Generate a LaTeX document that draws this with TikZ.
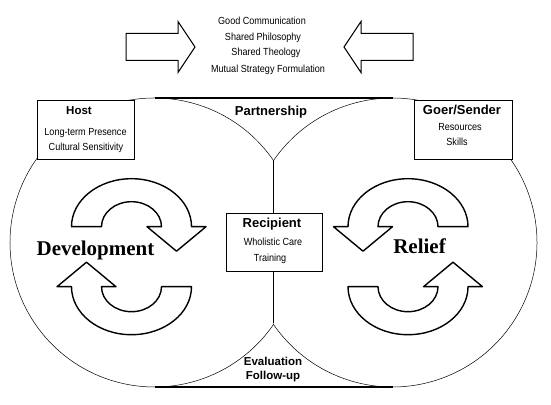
\documentclass[tikz,border=0pt]{standalone}
\usepackage{fontspec}
\setmainfont{Liberation Serif}
\newfontfamily\sansn{Liberation Sans}[FakeStretch=0.88]
\newfontfamily\lsans{Liberation Sans}
\begin{document}
\begin{tikzpicture}[x=1pt,y=1pt,
  small/.style={font=\sansn\fontsize{10.3}{12}\selectfont, inner sep=0pt, anchor=base},
  lab/.style={font=\lsans\bfseries\fontsize{13}{15}\selectfont, inner sep=0pt, anchor=base},
  labs/.style={font=\lsans\bfseries\fontsize{11.5}{13}\selectfont, inner sep=0pt, anchor=base},
  big/.style={font=\bfseries\fontsize{21}{24}\selectfont, inner sep=0pt, anchor=base},
  boxst/.style={draw, fill=white, line width=0.8pt, inner sep=0pt},
  cyc/.style={draw, fill=white, line width=1.4pt, line join=round},
  blk/.style={draw, line width=1pt, line join=miter},
  circ/.style={draw, line width=0.5pt},
  heavy/.style={draw, line width=1.8pt}]
\fill[white] (0,0) rectangle (551,404);
\useasboundingbox (0,0) rectangle (551,404);
% big circles
\coordinate (lc) at (154.5,161.5);
\coordinate (rc) at (392.5,161.5);
\coordinate (jt) at (273.5,242.5);
\coordinate (jb) at (273.5,80.5);
\coordinate (tl) at (154.5,306);
\coordinate (tr) at (392.5,306);
\coordinate (bl) at (154.5,17);
\coordinate (br) at (392.5,17);
\draw[circ] ([shift={(34.2:144.5)}]lc) arc[start angle=34.2, end angle=325.8, radius=144.5];
\draw[circ] ([shift={(145.8:144.5)}]rc) arc[start angle=145.8, end angle=-145.8, radius=144.5];
\draw[line width=0.8pt] (jt) -- (jb);
\draw[heavy] (tl) -- (tr);
\draw[heavy] (bl) -- (br);
% top block arrows
\draw[blk] (126,370.5) -- (178,370.5) -- (178,382.5) -- (195,357) -- (178,331.5) -- (178,343.5) -- (126,343.5) -- cycle;
\draw[blk] (413,370.5) -- (361,370.5) -- (361,382.5) -- (344,357) -- (361,331.5) -- (361,343.5) -- (413,343.5) -- cycle;
\node[small] (t1) at (262,379) {Good Communication};
\node[small] (t2) at (263,363) {Shared Philosophy};
\node[small] (t3) at (266,348) {Shared Theology};
\node[small] (t4) at (268,331) {Mutual Strategy Formulation};
% boxes
\node[boxst, minimum width=97pt, minimum height=59pt] (host) at (85.5,274.5) {};
\node[boxst, minimum width=98pt, minimum height=59pt] (goer) at (463,274.5) {};
\node[boxst, minimum width=96pt, minimum height=58pt] (rec) at (274,162) {};
\node[labs] (hostt) at (79,289) {Host};
\node[small] (h1) at (85.5,268) {Long-term Presence};
\node[small] (h2) at (86,253.3) {Cultural Sensitivity};
\node[lab] (goert) at (462,289) {Goer/Sender};
\node[small] (g1) at (460,273.3) {Resources};
\node[small] (g2) at (457,258.3) {Skills};
\node[lab] (rect) at (272,176.3) {Recipient};
\node[small] (r1) at (273,158.3) {Wholistic Care};
\node[small] (r2) at (270,142) {Training};
\node[lab] (part) at (271,288) {Partnership};
\node[labs] (ev1) at (273,38.3) {Evaluation};
\node[labs] (ev2) at (273,24) {Follow-up};
% circular arrows: Development
\draw[cyc] (71.5,177.3) arc[start angle=180,end angle=0,x radius=60,y radius=48] -- (206,177.3) -- (176.5,152.8) -- (147,177.3) -- (161.5,177.3) arc[start angle=0,end angle=180,x radius=30,y radius=25] -- cycle;
\draw[cyc] (191.5,117.3) arc[start angle=0,end angle=-180,x radius=60,y radius=48] -- (57,117.3) -- (86.5,141.8) -- (116,117.3) -- (101.5,117.3) arc[start angle=180,end angle=360,x radius=30,y radius=25] -- cycle;
% circular arrows: Relief
\draw[cyc] (468,177.3) arc[start angle=0,end angle=180,x radius=60,y radius=48] -- (333.5,177.3) -- (363,152.8) -- (392.5,177.3) -- (378,177.3) arc[start angle=180,end angle=0,x radius=30,y radius=25] -- cycle;
\draw[cyc] (348,117.3) arc[start angle=180,end angle=360,x radius=60,y radius=48] -- (482.5,117.3) -- (453,141.8) -- (423.5,117.3) -- (438,117.3) arc[start angle=0,end angle=-180,x radius=30,y radius=25] -- cycle;
\node[big] (dev) at (95.5,148.3) {Development};
\node[big] (rel) at (419.5,150) {Relief};
\end{tikzpicture}
\end{document}
